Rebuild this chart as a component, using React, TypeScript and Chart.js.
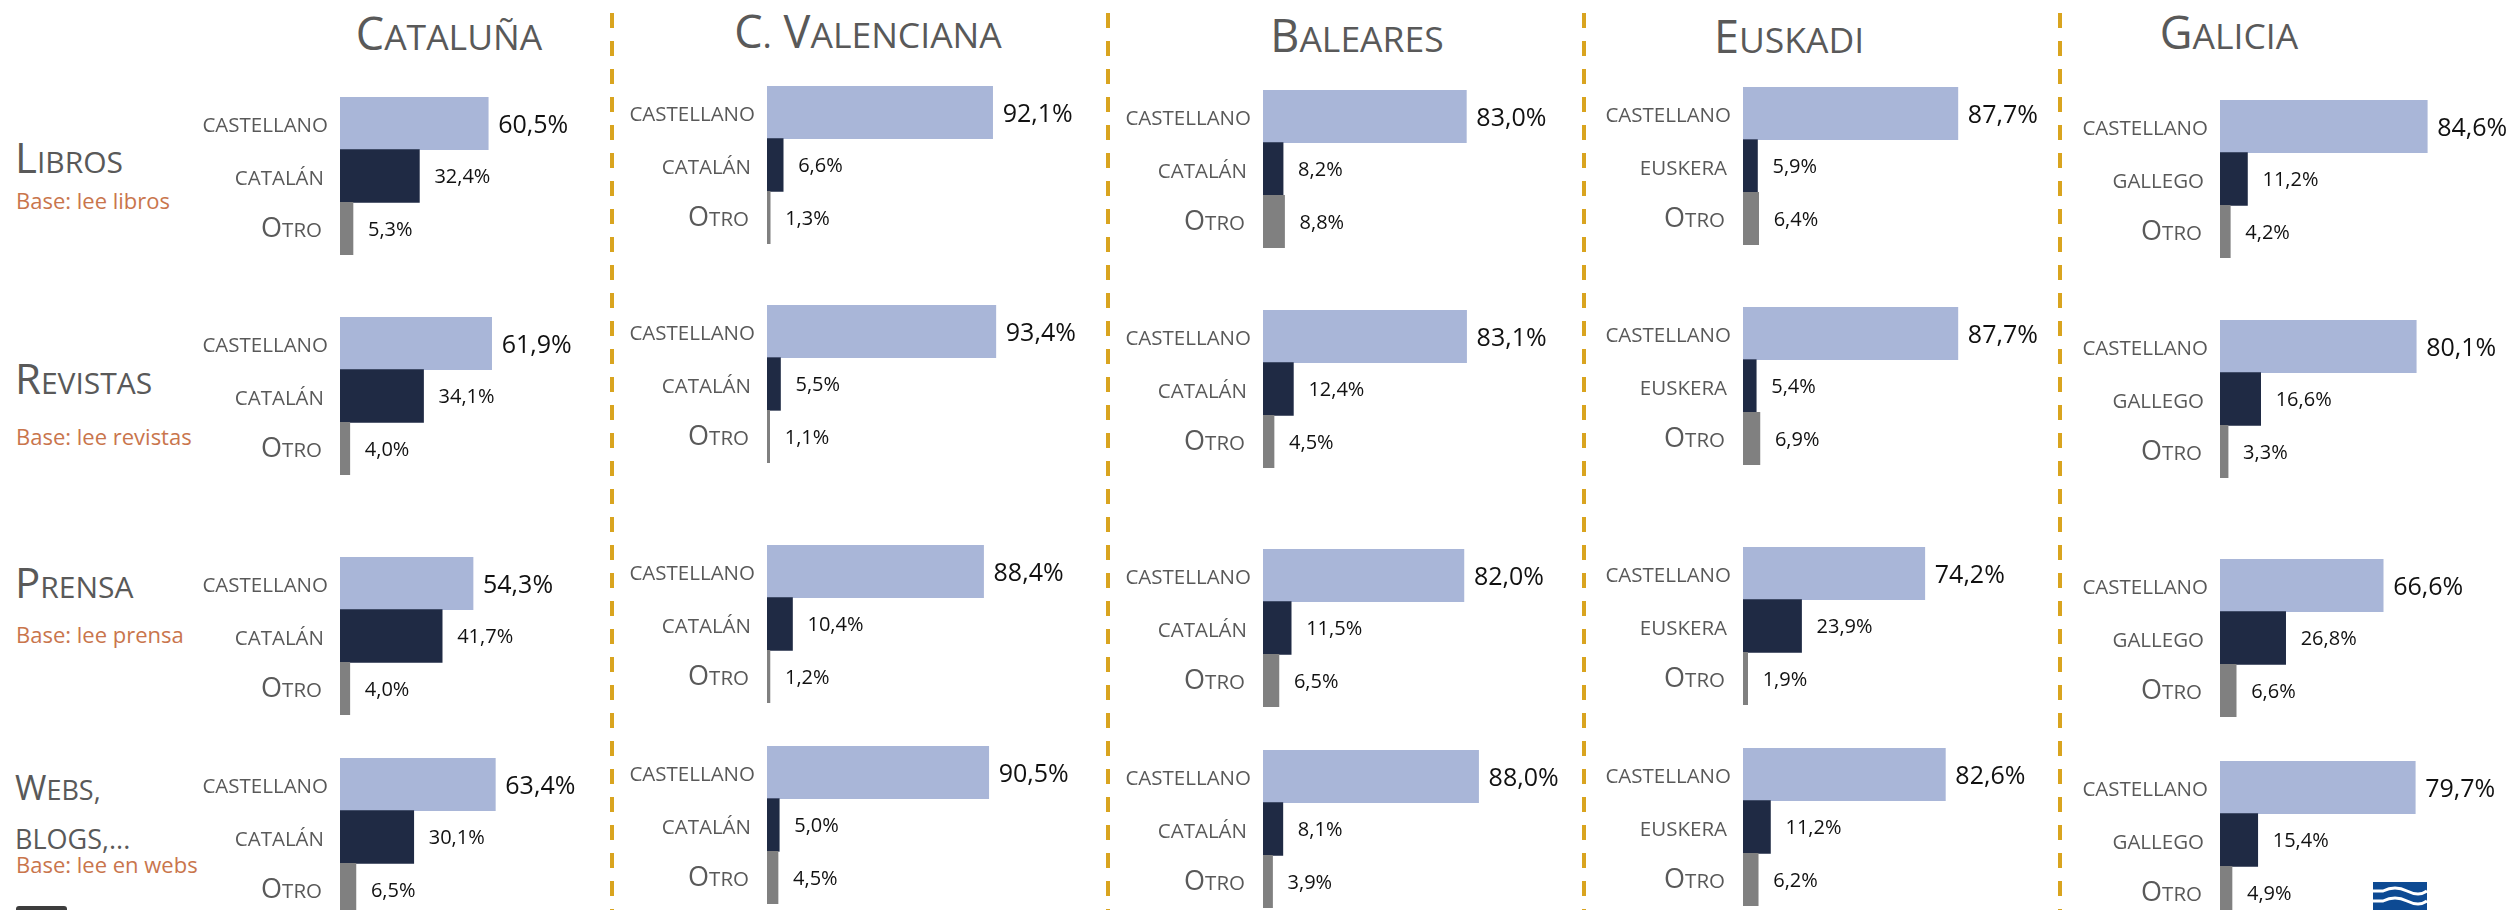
import React, { useEffect, useRef } from 'react';
import { Chart, registerables } from 'chart.js';

Chart.register(...registerables);

// ---------- data ----------
const REGIONS = ['Cataluña', 'C. Valenciana', 'Baleares', 'Euskadi', 'Galicia'];
const MEDIA = ['Libros', 'Revistas', 'Prensa', 'Webs, blogs,...'];
const BASES = ['Base: lee libros', 'Base: lee revistas', 'Base: lee prensa', 'Base: lee en webs'];
const SPANISH_LABEL = 'castellano';
const REGIONAL_LANG = ['catalán', 'catalán', 'catalán', 'euskera', 'gallego'];
const OTHER_LABEL = 'Otro';

// values per region, in media order: Libros, Revistas, Prensa, Webs
const CASTELLANO = [
  [60.5, 61.9, 54.3, 63.4],
  [92.1, 93.4, 88.4, 90.5],
  [83.0, 83.1, 82.0, 88.0],
  [87.7, 87.7, 74.2, 82.6],
  [84.6, 80.1, 66.6, 79.7],
];
const REGIONAL = [
  [32.4, 34.1, 41.7, 30.1],
  [6.6, 5.5, 10.4, 5.0],
  [8.2, 12.4, 11.5, 8.1],
  [5.9, 5.4, 23.9, 11.2],
  [11.2, 16.6, 26.8, 15.4],
];
const OTRO = [
  [5.3, 4.0, 4.0, 6.5],
  [1.3, 1.1, 1.2, 4.5],
  [8.8, 4.5, 6.5, 3.9],
  [6.4, 6.9, 1.9, 6.2],
  [4.2, 3.3, 6.6, 4.9],
];

// ---------- layout / style ----------
const FONT = "'Open Sans', 'Noto Sans', sans-serif";
const BAR_COLORS = ['#A9B6D8', '#1F2A44', '#808080'];
const TEXT_GRAY = '#595959';
const BASE_COLOR = '#C9754C';
const DIVIDER_COLOR = '#D9A41F';

const COL_ZERO_X = [340, 767, 1263, 1743, 2220];
const BAND_TOP = [
  [97, 317, 557, 758],
  [86, 305, 545, 746],
  [90, 310, 549, 750],
  [87, 307, 547, 748],
  [100, 320, 559, 761],
];
const BAND_H = 158;
const LABEL_W = 170;
const AREA_W = 245;
const RIGHT_PAD = 110;
const TICK_GAP = [12, 16, 18];
const DIVIDERS_X = [610, 1106, 1582, 2058];
const TITLE_CX = [449, 868, 1357, 1789, 2229];
const TITLE_BASE = [50, 48, 52, 53, 49];
const MEDIA_BASE = [173, 394, 598, 800];
const BASE_BASE = [209, 445, 643, 873];

const fmt = (v: number) => v.toFixed(1).replace('.', ',') + '%';

type Run = { t: string; big: boolean };
function scRuns(text: string): Run[] {
  const runs: Run[] = [];
  for (const ch of text) {
    const isUpper = ch !== ch.toLowerCase() && ch === ch.toUpperCase();
    const big = isUpper || ch === ' ';
    const last = runs[runs.length - 1];
    if (last && last.big === big) last.t += ch.toUpperCase();
    else runs.push({ t: ch.toUpperCase(), big });
  }
  return runs;
}

function drawSmallCaps(ctx: CanvasRenderingContext2D, text: string, xRight: number, baseline: number, big: number, small: number, color: string) {
  const runs = scRuns(text);
  ctx.save();
  ctx.fillStyle = color;
  ctx.textAlign = 'left';
  ctx.textBaseline = 'alphabetic';
  const widths = runs.map((r) => {
    ctx.font = `${r.big ? big : small}px ${FONT}`;
    return ctx.measureText(r.t).width;
  });
  let x = xRight - widths.reduce((a, b) => a + b, 0);
  runs.forEach((r, i) => {
    ctx.font = `${r.big ? big : small}px ${FONT}`;
    ctx.fillText(r.t, x, baseline);
    x += widths[i];
  });
  ctx.restore();
}

const labelsPlugin = {
  id: 'labelsPlugin',
  afterDatasetsDraw(chart: any) {
    const ctx = chart.ctx as CanvasRenderingContext2D;
    const meta = chart.getDatasetMeta(0);
    const data = chart.data.datasets[0].data as number[];
    const ys = chart.scales.y;
    const left = chart.chartArea.left;
    (chart.data.labels as string[]).forEach((lab, i) => {
      const y = ys.getPixelForValue(i);
      drawSmallCaps(ctx, lab, left - TICK_GAP[i], y + 8.5, 27, 20.5, TEXT_GRAY);
    });
    meta.data.forEach((bar: any, i: number) => {
      const size = i === 0 ? 25 : 20;
      const off = i === 0 ? 10 : 15;
      ctx.save();
      ctx.font = `${size}px ${FONT}`;
      ctx.fillStyle = '#111111';
      ctx.textAlign = 'left';
      ctx.textBaseline = 'alphabetic';
      ctx.fillText(fmt(data[i]), bar.x + off, bar.y + 0.357 * size + (i === 0 ? 1 : 0));
      ctx.restore();
    });
  },
};

function Panel({ r, m }: { r: number; m: number }) {
  const ref = useRef<HTMLCanvasElement>(null);
  useEffect(() => {
    const labels = [SPANISH_LABEL, REGIONAL_LANG[r], OTHER_LABEL];
    const values = [CASTELLANO[r][m], REGIONAL[r][m], OTRO[r][m]];
    const chart = new Chart(ref.current as HTMLCanvasElement, {
      type: 'bar',
      data: {
        labels,
        datasets: [
          {
            data: values,
            backgroundColor: BAR_COLORS,
            borderWidth: 0,
            barPercentage: 1,
            categoryPercentage: 1,
          },
        ],
      },
      options: {
        indexAxis: 'y',
        responsive: false,
        animation: false,
        layout: { padding: { top: 0, bottom: 0, left: 0, right: RIGHT_PAD } },
        plugins: { legend: { display: false }, tooltip: { enabled: false } },
        scales: {
          x: { display: false, min: 0, max: 100 },
          y: {
            offset: true,
            grid: { display: false, drawTicks: false },
            border: { display: false },
            ticks: { display: false, padding: 0 },
            afterFit: (s: any) => {
              s.width = LABEL_W;
              s.paddingTop = 0;
              s.paddingBottom = 0;
            },
          },
        },
      } as any,
      plugins: [labelsPlugin],
    });
    return () => chart.destroy();
  }, [r, m]);
  return (
    <canvas
      ref={ref}
      width={LABEL_W + AREA_W + RIGHT_PAD}
      height={BAND_H}
      style={{ position: 'absolute', left: COL_ZERO_X[r] - LABEL_W, top: BAND_TOP[r][m] }}
    />
  );
}

function SC({
  text, big, small, baseline, left, color, width, align, lh,
}: {
  text: string; big: number; small: number; baseline: number; left: number; color: string;
  width?: number; align?: 'left' | 'center'; lh?: number;
}) {
  const lineH = lh ?? big;
  const top = baseline - ((lineH - 1.362 * big) / 2 + 1.069 * big);
  return (
    <div
      style={{
        position: 'absolute', left, top, width, textAlign: align ?? 'left',
        fontFamily: FONT, fontSize: big, lineHeight: `${lineH}px`, color,
        whiteSpace: width && align !== 'center' ? 'normal' : 'nowrap',
      }}
    >
      {scRuns(text).map((r, i) => (
        <span key={i} style={{ fontSize: r.big ? big : small }}>{r.t}</span>
      ))}
    </div>
  );
}

export default function App() {
  useEffect(() => {
    document.body.style.margin = '0';
  }, []);
  return (
    <div style={{ position: 'relative', width: 2512, height: 910, overflow: 'hidden', background: '#fff' }}>
      {DIVIDERS_X.map((x, i) => (
        <div
          key={'d' + i}
          style={{
            position: 'absolute', left: x, top: 13, width: 4, height: 897,
            background: `repeating-linear-gradient(to bottom, ${DIVIDER_COLOR} 0px, ${DIVIDER_COLOR} 15px, transparent 15px, transparent 28px)`,
          }}
        />
      ))}
      {REGIONS.map((t, i) => (
        <SC key={'t' + i} text={t} big={45} small={35.5} baseline={TITLE_BASE[i]} left={TITLE_CX[i] - 300} width={600} align="center" color={TEXT_GRAY} />
      ))}
      {MEDIA.map((t, i) =>
        i < 3 ? (
          <SC key={'m' + i} text={t} big={42} small={30} baseline={MEDIA_BASE[i]} left={15} color={TEXT_GRAY} />
        ) : (
          <SC key={'m' + i} text={t} big={34} small={27} baseline={MEDIA_BASE[i]} left={15} width={150} lh={46} color={TEXT_GRAY} />
        )
      )}
      {BASES.map((t, i) => (
        <div
          key={'b' + i}
          style={{
            position: 'absolute', left: 16, top: BASE_BASE[i] - 0.888 * 22, fontFamily: FONT,
            fontSize: 22, lineHeight: '22px', color: BASE_COLOR, whiteSpace: 'nowrap',
          }}
        >
          {t}
        </div>
      ))}
      {REGIONS.map((_, r) => MEDIA.map((__, m) => <Panel key={`p${r}-${m}`} r={r} m={m} />))}
      <div style={{ position: 'absolute', left: 16, top: 906, width: 51, height: 6, background: '#3d3d3d', borderRadius: '3px 3px 0 0' }} />
      <svg style={{ position: 'absolute', left: 2373, top: 882 }} width={54} height={28}>
        <rect x={0} y={0} width={54} height={28} fill="#0D4A93" />
        <path d="M0 9 L10 9 Q 22 3 34 9 T 54 9" stroke="#fff" strokeWidth={3} fill="none" />
        <path d="M0 19 L10 19 Q 22 13 34 19 T 54 19" stroke="#fff" strokeWidth={3} fill="none" />
      </svg>
    </div>
  );
}
